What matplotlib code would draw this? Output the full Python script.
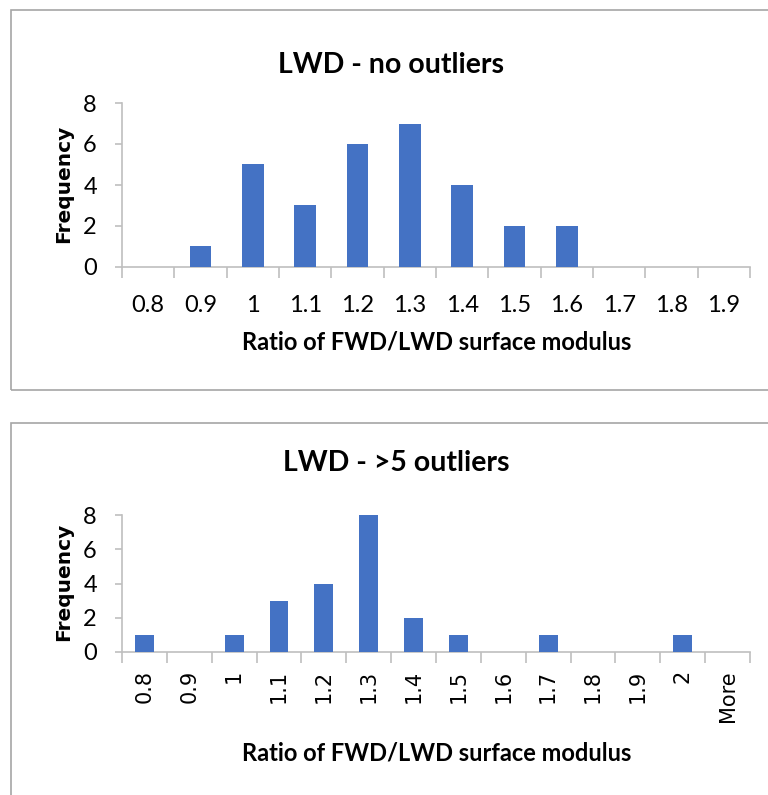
import numpy as np
import matplotlib
matplotlib.use('Agg')
from matplotlib import pyplot as plt
from matplotlib.patches import Rectangle

# histogram bins and counts
bins_top = ['0.8', '0.9', '1', '1.1', '1.2', '1.3', '1.4', '1.5', '1.6', '1.7', '1.8', '1.9']
freq_top = [0, 1, 5, 3, 6, 7, 4, 2, 2, 0, 0, 0]

bins_bot = ['0.8', '0.9', '1', '1.1', '1.2', '1.3', '1.4', '1.5', '1.6', '1.7', '1.8', '1.9', '2', 'More']
freq_bot = [1, 0, 1, 3, 4, 8, 2, 1, 0, 1, 0, 0, 1, 0]

title_top = 'LWD - no outliers'
title_bot = 'LWD - >5 outliers'
xlab = 'Ratio of FWD/LWD surface modulus'
ylab = 'Frequency'

BLUE = '#4472C4'
GRID = '#BFBFBF'
FONT = ['Lato', 'DejaVu Sans']

W, H = 768, 795
fig = plt.figure(figsize=(W / 100, H / 100), dpi=100)


def fx(px):
    return px / W


def fy(py):
    return 1 - py / H


# panel borders
fig.patches.append(Rectangle((fx(11), fy(390)), fx(770) - fx(11), fy(10) - fy(390),
                             transform=fig.transFigure, fill=False, ec='#A6A6A6', lw=1.2))
fig.patches.append(Rectangle((fx(11), fy(800)), fx(770) - fx(11), fy(423) - fy(800),
                             transform=fig.transFigure, fill=False, ec='#A6A6A6', lw=1.2))


def panel(rect, cats, vals, rotate):
    ax = fig.add_axes(rect)
    n = len(cats)
    x = np.arange(n)
    ax.bar(x, vals, width=0.42, color=BLUE, zorder=3)
    ax.set_xlim(-0.5, n - 0.5)
    ax.set_ylim(0, 8)
    for s in ['top', 'right']:
        ax.spines[s].set_visible(False)
    for s in ['left', 'bottom']:
        ax.spines[s].set_color(GRID)
        ax.spines[s].set_linewidth(1.2)
    ax.set_yticks([0, 2, 4, 6, 8])
    ax.tick_params(axis='y', length=5, color=GRID, width=1.2, pad=13, labelsize=17)
    for t in ax.get_yticklabels():
        t.set_fontfamily(FONT)
    # boundaries as major ticks, labels on minor ticks at bar centers
    ax.set_xticks(np.arange(n + 1) - 0.5)
    ax.set_xticklabels([])
    ax.tick_params(axis='x', which='major', length=8, color=GRID, width=1.2)
    ax.set_xticks(x, minor=True)
    if rotate:
        ax.set_xticklabels(cats, minor=True, rotation=90, fontsize=15,
                           family='DejaVu Sans', va='top')
        ax.tick_params(axis='x', which='minor', length=0, pad=13)
    else:
        ax.set_xticklabels(cats, minor=True, fontsize=17, family=FONT)
        ax.tick_params(axis='x', which='minor', length=0, pad=20)
    return ax


ax1 = panel([fx(122), fy(267), fx(750) - fx(122), fy(103) - fy(267)], bins_top, freq_top, False)
ax2 = panel([fx(122), fy(652), fx(750) - fx(122), fy(515) - fy(652)], bins_bot, freq_bot, True)

fig.text(fx(391), fy(65), title_top, ha='center', va='center', fontsize=20.5,
         fontweight='bold', family=FONT)
fig.text(fx(396), fy(463), title_bot, ha='center', va='center', fontsize=20.5,
         fontweight='bold', family=FONT)
fig.text(fx(437), fy(342), xlab, ha='center', va='center', fontsize=17,
         fontweight='bold', family=FONT)
fig.text(fx(437), fy(753), xlab, ha='center', va='center', fontsize=17,
         fontweight='bold', family=FONT)
fig.text(fx(64), fy(184), ylab, ha='center', va='center', fontsize=14.5,
         fontweight='bold', rotation=90, family='DejaVu Sans')
fig.text(fx(64), fy(582), ylab, ha='center', va='center', fontsize=14.5,
         fontweight='bold', rotation=90, family='DejaVu Sans')

plt.savefig('out.png', dpi=100)
